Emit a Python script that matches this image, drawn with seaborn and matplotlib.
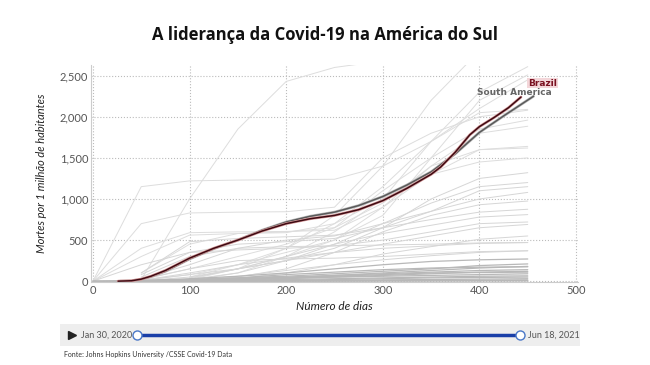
import numpy as np
import pandas as pd
import matplotlib
matplotlib.use("Agg")
import matplotlib.pyplot as plt
import seaborn as sns

# Dados ----------------------------------------------------------------
dias_brasil = [26, 40, 50, 60, 75, 100, 125, 150, 175, 200, 225, 250, 275, 300,
               325, 350, 360, 375, 390, 400, 415, 430, 443]
mortes_brasil = [0, 5, 25, 60, 130, 280, 400, 500, 610, 700, 760, 800, 870, 980,
                 1130, 1300, 1390, 1570, 1780, 1880, 1990, 2110, 2240]

dias_am_sul = [28, 40, 50, 60, 75, 100, 125, 150, 175, 200, 225, 250, 275, 300,
               325, 350, 375, 400, 425, 456]
mortes_am_sul = [0, 5, 22, 55, 120, 270, 395, 500, 620, 720, 790, 840, 920, 1030,
                 1170, 1330, 1550, 1810, 2010, 2250]

# outros países: valores a cada 50 dias
dias_grade = [0, 50, 100, 150, 200, 250, 300, 350, 400, 450]
N = None
linhas_altas = [
    [N, 20, 1000, 1850, 2430, 2600, 2680, 2750, 2800, 2850],
    [0, 1150, 1220, 1230, 1235, 1240, 1400, 1700, 2100, 2450],
    [0, 700, 830, 840, 845, 900, 1500, 1800, 2000, 2080],
    [0, 400, 590, 600, 605, 620, 900, 1400, 1600, 1640],
    [N, 100, 450, 580, 600, 650, 1100, 1500, 1850, 1960],
    [0, 300, 560, 580, 590, 700, 1000, 1300, 1450, 1500],
    [N, N, 10, 100, 300, 600, 1000, 1700, 2300, 2610],
    [N, N, 50, 200, 350, 500, 800, 1500, 2200, 2510],
    [N, 20, 150, 300, 450, 650, 950, 1400, 1800, 1885],
    [N, N, 30, 150, 300, 500, 900, 1300, 1600, 1620],
    [N, N, 20, 150, 400, 800, 1400, 2200, 2800, 2950],
    [N, 10, 80, 200, 400, 700, 1150, 1700, 2050, 2090],
]
linhas_medias = [
    [N, 10, 80, 150, 250, 400, 650, 1000, 1250, 1320],
    [N, N, 20, 100, 250, 450, 700, 950, 1150, 1200],
    [N, 30, 200, 400, 500, 550, 700, 850, 1000, 1080],
    [N, N, 10, 50, 150, 350, 600, 800, 930, 975],
    [0, 200, 350, 450, 480, 520, 650, 750, 840, 875],
    [N, N, 40, 150, 300, 450, 580, 680, 780, 810],
    [N, 5, 50, 150, 250, 350, 450, 550, 650, 690],
    [N, N, 5, 30, 100, 200, 330, 420, 510, 550],
    [N, 50, 300, 400, 420, 430, 440, 450, 465, 470],
    [N, 10, 100, 200, 280, 350, 400, 430, 460, 470],
    [N, N, 10, 60, 130, 200, 260, 310, 350, 370],
    [N, 20, 150, 250, 270, 280, 300, 330, 360, 370],
    [N, 100, 480, 520, 540, 560, 650, 850, 1100, 1150],
    [N, 80, 350, 380, 400, 430, 500, 600, 700, 720],
]
linhas_baixas = [
    [N, 5, 30, 60, 100, 150, 200, 240, 260, 270],
    [N, N, 10, 40, 80, 110, 140, 160, 170, 175],
    [N, 2, 15, 30, 50, 70, 90, 110, 130, 140],
    [N, N, 5, 15, 30, 50, 70, 90, 110, 120],
    [0, 10, 20, 30, 40, 50, 60, 70, 80, 90],
    [N, 1, 5, 10, 20, 30, 40, 50, 60, 65],
    [N, N, 2, 5, 10, 20, 30, 40, 45, 50],
    [0, 1, 2, 4, 8, 12, 16, 20, 25, 30],
    [N, 0, 1, 2, 3, 5, 8, 10, 12, 15],
    [N, N, 0, 1, 2, 3, 4, 5, 6, 8],
    [N, 3, 20, 40, 60, 90, 120, 150, 190, 210],
    [N, N, 5, 20, 40, 70, 100, 130, 160, 180],
    [N, 2, 8, 25, 45, 60, 80, 100, 105, 110],
    [0, 0, 1, 1, 2, 2, 3, 3, 4, 4],
]


def tabela(grupo, nome):
    linhas = []
    for i, vals in enumerate(grupo):
        for d, v in zip(dias_grade, vals):
            if v is not None:
                linhas.append({'pais': f'{nome}{i}', 'dia': d, 'mortes': v})
    return pd.DataFrame(linhas)


# Figura --------------------------------------------------------------
sns.set_style('white')
plt.rcParams['font.family'] = ['Lato', 'DejaVu Sans']

fig = plt.figure(figsize=(6.5, 3.65), dpi=100)
ax = fig.add_axes([91 / 650, 1 - 282 / 365, (578 - 91) / 650, (282 - 65) / 365])

for grupo, nome, cor, lw in [(linhas_altas, 'a', '#dddddd', 0.7),
                             (linhas_medias, 'm', '#d6d6d6', 0.7),
                             (linhas_baixas, 'b', '#b8b8b8', 0.9)]:
    df = tabela(grupo, nome)
    sns.lineplot(data=df, x='dia', y='mortes', units='pais', estimator=None,
                 color=cor, linewidth=lw, ax=ax, legend=False)

# América do Sul e Brasil
sns.lineplot(x=dias_am_sul, y=mortes_am_sul, color='#bdbdbd', linewidth=2.0, ax=ax)
sns.lineplot(x=dias_am_sul, y=mortes_am_sul, color='#5a5a5a', linewidth=1.1, ax=ax)
sns.lineplot(x=dias_brasil, y=mortes_brasil, color='#d99a9a', linewidth=2.0, ax=ax)
sns.lineplot(x=dias_brasil, y=mortes_brasil, color='#3d0a12', linewidth=1.1, ax=ax)

ax.text(dias_brasil[-1] + 22, mortes_brasil[-1] + 170, 'Brazil', fontsize=6.5,
        fontweight='bold', color='#7a1020', ha='center', va='center',
        family='DejaVu Sans',
        bbox=dict(boxstyle='square,pad=0.1', fc='#f3d6d9', ec='none'))
ax.text(dias_am_sul[-1] - 20, mortes_am_sul[-1] + 40, 'South America', fontsize=6.5,
        fontweight='bold', color='#666666', ha='center', va='center',
        family='DejaVu Sans')

ax.set_xlim(-2, 502)
ax.set_ylim(-10, 2630)
ax.set_xticks([0, 100, 200, 300, 400, 500])
ax.set_yticks([0, 500, 1000, 1500, 2000, 2500])
ax.set_yticklabels([f'{v:,}' for v in [0, 500, 1000, 1500, 2000, 2500]])
ax.tick_params(labelsize=8, colors='#555555', length=0, pad=2)
ax.grid(True, linestyle=':', color='#bbbbbb', linewidth=0.8)
ax.set_axisbelow(True)
for s in ['top', 'right']:
    ax.spines[s].set_visible(False)
for s in ['left', 'bottom']:
    ax.spines[s].set_color('#cccccc')
    ax.spines[s].set_linewidth(0.8)

ax.set_xlabel('Número de dias', fontsize=8.5, style='italic', color='#222222', labelpad=4)
ax.set_ylabel('Mortes por 1 milhão de habitantes', fontsize=8, style='italic',
              color='#222222', labelpad=9)

fig.text(0.5, 1 - 35 / 365, 'A liderança da Covid-19 na América do Sul',
         ha='center', va='center', fontsize=12, fontweight='bold',
         family=['Open Sans', 'DejaVu Sans'], color='#111111')

# barra de tempo
ax2 = fig.add_axes([60 / 650, 1 - 346 / 365, 520 / 650, 22 / 365])
ax2.set_facecolor('#eeeeee')
ax2.set_xlim(0, 1)
ax2.set_ylim(0, 1)
ax2.set_xticks([])
ax2.set_yticks([])
for s in ax2.spines.values():
    s.set_visible(False)
ax2.plot([0.023], [0.5], marker='>', markersize=6, color='#222222')
ax2.text(0.04, 0.5, 'Jan 30, 2020', fontsize=6.5, color='#555555', va='center')
ax2.plot([0.148, 0.885], [0.5, 0.5], color='#1a3fa8', linewidth=2.5)
ax2.plot([0.148, 0.885], [0.5, 0.5], 'o', markersize=6.5, markerfacecolor='white',
         markeredgecolor='#4a78c8', markeredgewidth=1)
ax2.text(0.9, 0.5, 'Jun 18, 2021', fontsize=6.5, color='#555555', va='center')

fig.text(64 / 650, 1 - 355 / 365, 'Fonte: Johns Hopkins University /CSSE Covid-19 Data',
         fontsize=5, color='#333333', va='center')

fig.savefig('out.png', dpi=100)
